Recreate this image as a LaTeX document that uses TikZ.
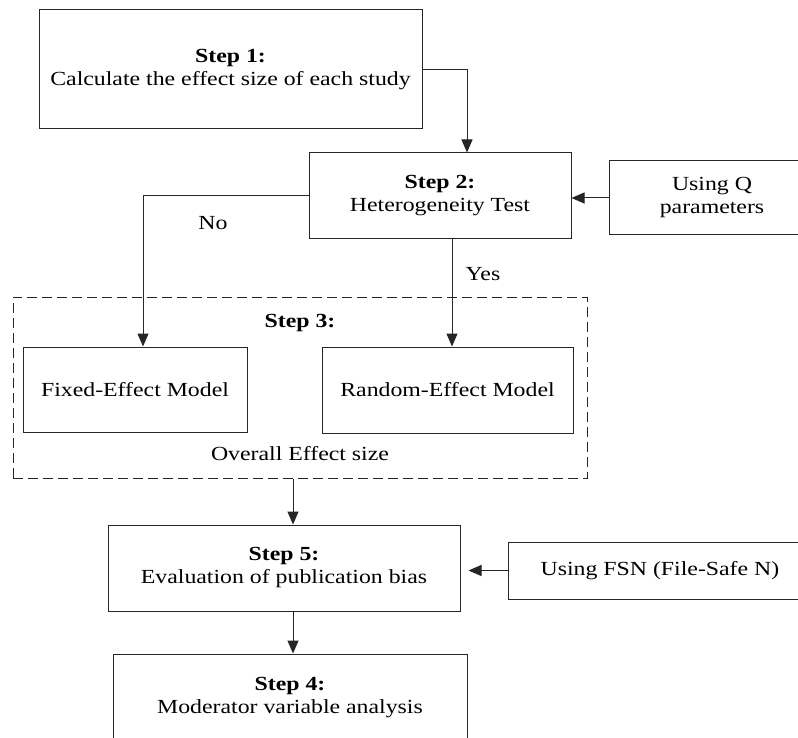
\documentclass[tikz,border=0pt]{standalone}
\usepackage{fontspec}
\setmainfont[FakeStretch=1.19]{Liberation Serif}
\usetikzlibrary{arrows.meta,calc}
\tikzset{
  box/.style={draw=black!85, line width=1pt, rectangle, inner sep=0pt, align=center, font=\fontsize{20}{23}\selectfont},
  lbl/.style={inner sep=0pt, font=\fontsize{20}{23}\selectfont},
  arr/.style={draw=black!85, line width=1pt, -{Triangle[length=13pt,width=11pt]}},
  grpbox/.style={draw=black!85, line width=1pt, dash pattern=on 10pt off 5pt, rectangle, inner sep=0pt}
}
\begin{document}
\begin{tikzpicture}[x=1pt,y=-1pt]
\useasboundingbox (0,0) rectangle (798,738);
\clip (0,0) rectangle (798,738);
\fill[white] (0,0) rectangle (798,738);

\node[box, minimum width=383pt, minimum height=119pt] (s1) at (230.5,69.5) {\textbf{Step 1:}\\Calculate the effect size of each study};
\node[box, minimum width=262pt, minimum height=86pt] (s2) at (440,196) {\textbf{Step 2:}\\Heterogeneity Test};
\node[box, minimum width=206pt, minimum height=74pt] (q) at (712,198) {Using Q\\parameters};

\node[grpbox, minimum width=574pt, minimum height=181pt] (grp) at (300,387.5) {};
\node[lbl] (s3) at (300,323) {\textbf{Step 3:}};
\node[box, minimum width=224pt, minimum height=85pt] (fix) at (135,389.5) {Fixed-Effect Model};
\node[box, minimum width=251pt, minimum height=86pt] (ran) at (447.5,390) {Random-Effect Model};
\node[lbl] (ov) at (300,454) {Overall Effect size};

\node[box, minimum width=352pt, minimum height=86pt] (s5) at (284,568) {\textbf{Step 5:}\\Evaluation of publication bias};
\node[box, minimum width=304pt, minimum height=57pt] (fsn) at (660,570.5) {Using FSN (File-Safe N)};
\node[box, minimum width=354pt, minimum height=87pt] (s4) at (290,697.5) {\textbf{Step 4:}\\Moderator variable analysis};

\node[lbl] (no) at (213,223) {No};
\node[lbl] (yes) at (483,274) {Yes};

\draw[arr] (s1.east) -| ([xshift=27pt]s2.north);
\draw[arr] (q.west) -- (s2.east |- q.west);
\draw[arr] (s2.west) -| ([xshift=8pt]fix.north);
\draw[arr] ([xshift=12pt]s2.south) -- ([xshift=12pt]s2.south |- ran.north);
\draw[arr] ([xshift=-7pt]grp.south) -- ([xshift=-7pt]grp.south |- s5.north);
\draw[arr] ([xshift=9pt]s5.south) -- ([xshift=9pt]s5.south |- s4.north);
\draw[arr] (fsn.west) -- ([xshift=8pt]s5.east |- fsn.west);
\end{tikzpicture}
\end{document}
